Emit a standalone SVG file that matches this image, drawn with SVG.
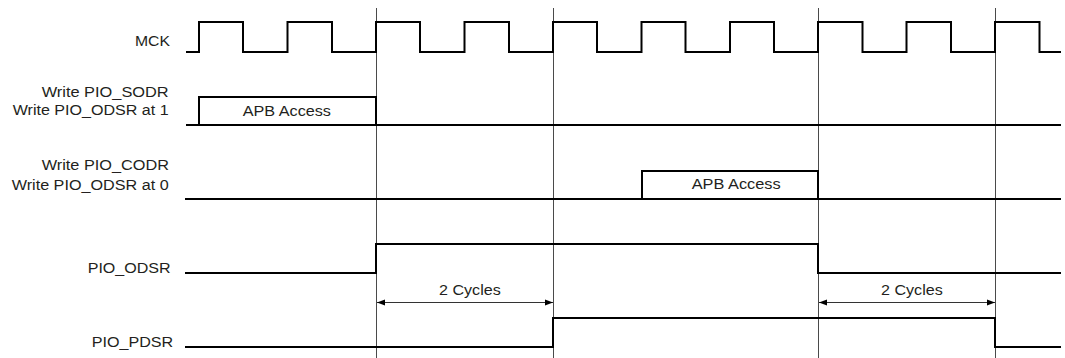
<svg xmlns="http://www.w3.org/2000/svg" width="1065" height="358" viewBox="0 0 1065 358">
<style>
.lbl{font-family:"Liberation Sans",Arial,Helvetica,sans-serif;font-size:14px;fill:#231f20}
.sig{fill:none;stroke:#000;stroke-width:2;stroke-linejoin:miter}
.guide{fill:none;stroke:#4a4a4a;stroke-width:1}
.dim{fill:none;stroke:#333;stroke-width:1}
</style>
<defs>
<marker id="ah" viewBox="0 0 8 8" refX="8" refY="4" markerWidth="8" markerHeight="8" markerUnits="userSpaceOnUse" orient="auto-start-reverse">
<path d="M0,1 L8,4 L0,7 Z" fill="#000"/>
</marker>
</defs>
<rect width="1065" height="358" fill="#fff"/>
<g id="guides">
<line class="guide" x1="376.5" y1="8" x2="376.5" y2="358"/>
<line class="guide" x1="553.5" y1="8" x2="553.5" y2="358"/>
<line class="guide" x1="818.5" y1="8" x2="818.5" y2="358"/>
<line class="guide" x1="995.5" y1="8" x2="995.5" y2="358"/>
</g>
<g id="mck">
<text class="lbl" x="135" y="45.5" textLength="35" lengthAdjust="spacingAndGlyphs">MCK</text>
<path class="sig" d="M186,52 H199 V22 H243 V52 H287.5 V22 H332 V52 H376 V22 H420 V52 H464.5 V22 H509 V52 H553 V22 H597 V52 H641.5 V22 H685.5 V52 H730 V22 H774 V52 H818 V22 H862.5 V52 H906.5 V22 H951 V52 H995 V22 H1039.5 V52 H1061"/>
</g>
<g id="sodr">
<text class="lbl" x="41.7" y="96.5" textLength="127" lengthAdjust="spacingAndGlyphs">Write PIO_SODR</text>
<text class="lbl" x="12.7" y="114.5" textLength="156" lengthAdjust="spacingAndGlyphs">Write PIO_ODSR at 1</text>
<path class="sig" d="M186,125 H1061"/>
<path class="sig" d="M199,125 V97 H376 V125"/>
<text class="lbl" x="242.7" y="115.5" textLength="88.3" lengthAdjust="spacingAndGlyphs">APB Access</text>
</g>
<g id="codr">
<text class="lbl" x="41.7" y="170" textLength="127.3" lengthAdjust="spacingAndGlyphs">Write PIO_CODR</text>
<text class="lbl" x="11.7" y="190" textLength="157" lengthAdjust="spacingAndGlyphs">Write PIO_ODSR at 0</text>
<path class="sig" d="M185,199 H1061"/>
<path class="sig" d="M642,199 V171 H818 V199"/>
<text class="lbl" x="691.7" y="189" textLength="89" lengthAdjust="spacingAndGlyphs">APB Access</text>
</g>
<g id="odsr">
<text class="lbl" x="87.7" y="272.5" textLength="83" lengthAdjust="spacingAndGlyphs">PIO_ODSR</text>
<path class="sig" d="M185,273 H376 V244 H818 V273 H1061"/>
</g>
<g id="pdsr">
<text class="lbl" x="91.7" y="346.5" textLength="81.5" lengthAdjust="spacingAndGlyphs">PIO_PDSR</text>
<path class="sig" d="M185,347 H553 V318 H995 V347 H1061"/>
</g>
<g id="connectors">
<line class="dim" x1="377" y1="302.5" x2="553" y2="302.5" marker-start="url(#ah)" marker-end="url(#ah)"/>
<text class="lbl" x="439" y="294.5" textLength="61.7" lengthAdjust="spacingAndGlyphs">2 Cycles</text>
<line class="dim" x1="819" y1="302.5" x2="995" y2="302.5" marker-start="url(#ah)" marker-end="url(#ah)"/>
<text class="lbl" x="881" y="294.5" textLength="61.7" lengthAdjust="spacingAndGlyphs">2 Cycles</text>
</g>
</svg>
